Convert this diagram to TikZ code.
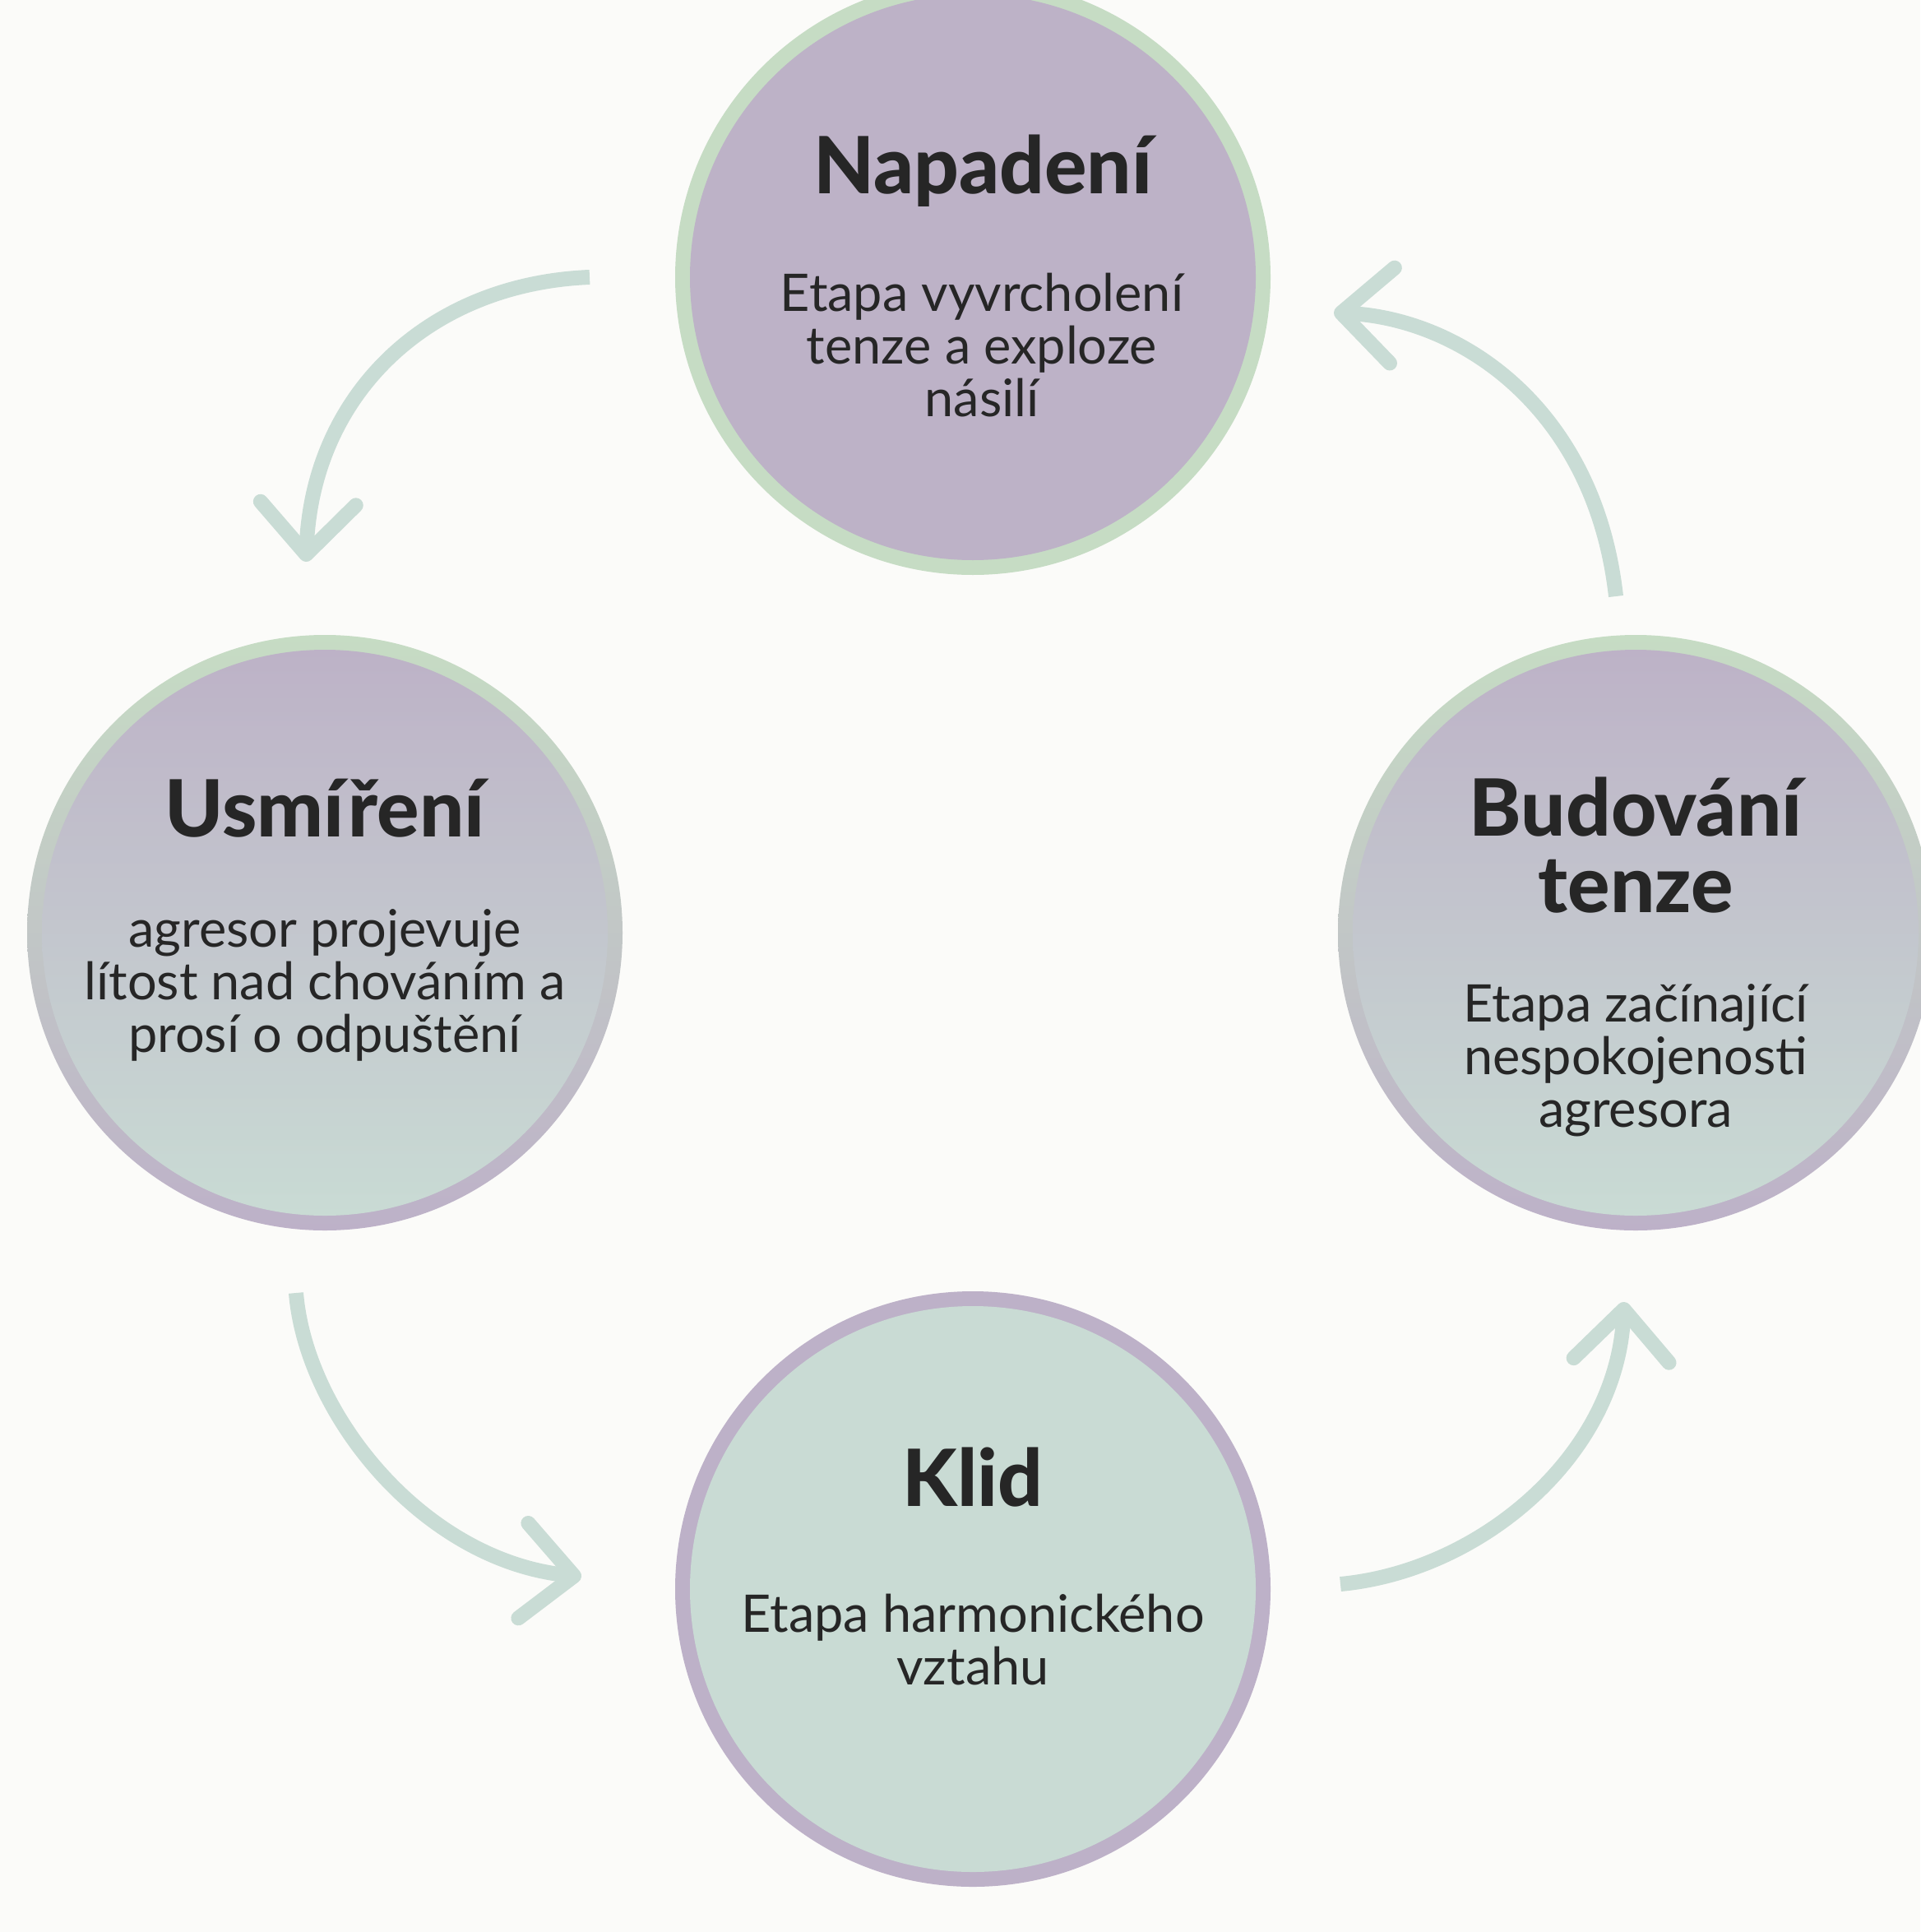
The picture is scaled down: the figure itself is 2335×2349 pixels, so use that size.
\documentclass[tikz,border=0pt]{standalone}
\usepackage{fontspec}
\setmainfont{Lato}
\newfontfamily\titlefont{Lato Heavy}
\usetikzlibrary{arrows.meta}
\definecolor{bgc}{HTML}{FBFBF9}
\definecolor{purp}{HTML}{BDB2C7}
\definecolor{grn}{HTML}{C9DBD4}
\definecolor{ringg}{HTML}{C6DCC4}
\definecolor{ringp}{HTML}{BDB1C8}
\definecolor{arrc}{HTML}{C9DCD5}
\definecolor{txt}{HTML}{262626}
\tikzset{
  outerdisk/.style={circle, minimum size=724pt, inner sep=0pt, draw=none},
  innerdisk/.style={circle, minimum size=688pt, inner sep=0pt, draw=none},
  titletext/.style={text=txt, align=center, font=\fontsize{96}{93}\titlefont\selectfont},
  bodytext/.style={text=txt, align=center, font=\fontsize{63}{64}\selectfont},
  cyclearrow/.style={draw=arrc, line width=18pt,
    -{Straight Barb[length=62pt, width=116pt, round]}},
}
\begin{document}
\begin{tikzpicture}[x=1pt, y=-1pt]
\fill[bgc] (0,0) rectangle (2335,2349);
\useasboundingbox (0,0) rectangle (2335,2349);
% circles
\node[outerdisk, fill=ringg] (N) at (1183,337) {};
\node[innerdisk, fill=purp] (Ni) at (N.center) {};
\node[outerdisk, top color=ringg, bottom color=ringp] (U) at (395,1134) {};
\node[innerdisk, top color=purp, bottom color=grn] (Ui) at (U.center) {};
\node[outerdisk, top color=ringg, bottom color=ringp] (B) at (1989,1134) {};
\node[innerdisk, top color=purp, bottom color=grn] (Bi) at (B.center) {};
\node[outerdisk, fill=ringp] (K) at (1183,1932) {};
\node[innerdisk, fill=grn] (Ki) at (K.center) {};
% texts
\node[titletext] (Nt) at (1195,208) {Napadení};
\node[bodytext] (Nb) at (1194,420) {Etapa vyvrcholení\\tenze a exploze\\násilí};
\node[titletext] (Ut) at (395,983) {Usmíření};
\node[bodytext] (Ub) at (395,1198) {agresor projevuje\\lítost nad chováním a\\prosí o odpuštění};
\node[titletext] (Bt) at (1989,1028) {Budování\\tenze};
\node[bodytext] (Bb) at (1989,1289) {Etapa začínající\\nespokojenosti\\agresora};
\node[titletext] (Kt) at (1183,1796) {Klid};
\node[bodytext] (Kb) at (1183,1994) {Etapa harmonického\\vztahu};
% arrows
\coordinate (a1s) at (717,337);  \coordinate (a1e) at (372,683);
\coordinate (a2s) at (360,1572); \coordinate (a2e) at (707,1917);
\coordinate (a3s) at (1630,1926);\coordinate (a3e) at (1975,1583);
\coordinate (a4s) at (1965,725); \coordinate (a4e) at (1622,380);
\draw[cyclearrow] (a1s) .. controls (520,345) and (380,480) .. (a1e);
\draw[cyclearrow] (a2s) .. controls (372,1720) and (515,1897) .. (a2e);
\draw[cyclearrow] (a3s) .. controls (1800,1910) and (1966,1770) .. (a3e);
\draw[cyclearrow] (a4s) .. controls (1940,500) and (1780,388) .. (a4e);
\end{tikzpicture}
\end{document}
